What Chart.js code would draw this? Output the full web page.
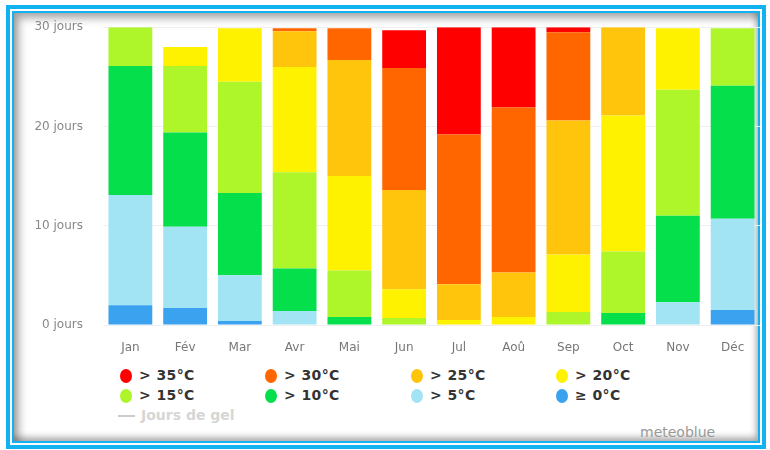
<!DOCTYPE html>
<html>
<head>
<meta charset="utf-8">
<script src="https://cdn.jsdelivr.net/npm/chart.js@4.4.0/dist/chart.umd.min.js"></script>
<style>
  html, body { margin: 0; padding: 0; background: #fff; }
  body { width: 770px; height: 450px; position: relative; overflow: hidden; font-family: "DejaVu Sans", sans-serif; }
  #frame { position: absolute; left: 6px; top: 5px; width: 752px; height: 436px; border: 4px solid #12b2f0; }
  #frame2 { position: absolute; left: 2px; top: 2px; right: 2px; bottom: 2px; border: 2px solid #12b2f0;
            box-shadow: inset 5px 5px 8px rgba(0,0,0,0.35), inset -2px -4px 6px rgba(0,0,0,0.3); background: #fff; }
  #wrap { position: absolute; left: 0; top: 0; width: 770px; height: 360px; }
  #legend { position: absolute; left: 0; top: 0; }
  .item { position: absolute; font-size: 14px; font-weight: bold; color: #333; white-space: nowrap; letter-spacing: 0.4px; }
  .dot { position: absolute; width: 12px; height: 14px; border-radius: 50%; }
  #gel { position: absolute; left: 118px; top: 407px; font-size: 14px; font-weight: bold; color: #d6d6d6; white-space: nowrap; }
  #gel span { display: inline-block; width: 17px; height: 2px; background: #ccc; vertical-align: middle; margin-right: 6px; }
  #brand { position: absolute; left: 640px; top: 424px; font-size: 14px; color: #999; }
</style>
</head>
<body>
<div id="frame"><div id="frame2"></div></div>
<div id="wrap"><canvas id="chart"></canvas></div>
<div id="legend"></div>
<div id="gel"><span></span>Jours de gel</div>
<div id="brand">meteoblue</div>
<script>
const categories = ['Jan', 'Fév', 'Mar', 'Avr', 'Mai', 'Jun', 'Jul', 'Aoû', 'Sep', 'Oct', 'Nov', 'Déc'];

// days per month, bottom of the stack first
const days0  = [2.0, 1.7, 0.4, 0, 0, 0, 0, 0, 0, 0, 0, 1.5];
const days5  = [11.1, 8.2, 4.6, 1.4, 0, 0, 0, 0, 0, 0, 2.3, 9.2];
const days10 = [13.0, 9.5, 8.3, 4.3, 0.8, 0, 0, 0, 0, 1.2, 8.7, 13.4];
const days15 = [3.9, 6.7, 11.2, 9.7, 4.7, 0.7, 0, 0, 1.3, 6.2, 12.7, 5.8];
const days20 = [0, 1.9, 5.4, 10.6, 9.5, 2.9, 0.5, 0.8, 5.8, 13.7, 6.2, 0];
const days25 = [0, 0, 0, 3.6, 11.7, 10.0, 3.6, 4.5, 13.5, 8.9, 0, 0];
const days30 = [0, 0, 0, 0.3, 3.2, 12.3, 15.1, 16.6, 8.9, 0, 0, 0];
const days35 = [0, 0, 0, 0, 0, 3.8, 10.8, 8.1, 0.5, 0, 0, 0];

const yTicks = [0, 10, 20, 30];

const series = [
  { label: '≥ 0°C',  data: days0,  color: '#3aa2ee' },
  { label: '> 5°C',  data: days5,  color: '#a2e4f4' },
  { label: '> 10°C', data: days10, color: '#06df4c' },
  { label: '> 15°C', data: days15, color: '#aef52a' },
  { label: '> 20°C', data: days20, color: '#fff200' },
  { label: '> 25°C', data: days25, color: '#ffc40c' },
  { label: '> 30°C', data: days30, color: '#ff6600' },
  { label: '> 35°C', data: days35, color: '#ff0000' }
];

new Chart(document.getElementById('chart'), {
  type: 'bar',
  data: {
    labels: categories,
    datasets: series.map(s => ({
      label: s.label,
      data: s.data,
      backgroundColor: s.color,
      borderWidth: 0,
      categoryPercentage: 0.8,
      barPercentage: 1
    }))
  },
  options: {
    responsive: true,
    maintainAspectRatio: false,
    animation: false,
    layout: { padding: { left: 0, right: 10, top: 23, bottom: 0 } },
    plugins: { legend: { display: false }, tooltip: { enabled: false } },
    scales: {
      x: {
        stacked: true,
        grid: { display: false },
        border: { display: false },
        ticks: { color: '#777', padding: 8, font: { family: 'DejaVu Sans', size: 12 } },
        afterFit: s => { s.height = 35; }
      },
      y: {
        stacked: true,
        min: 0,
        max: 30,
        afterBuildTicks: s => { s.ticks = yTicks.map(v => ({ value: v })); },
        grid: { color: '#f0f0f0', drawTicks: false },
        border: { display: false },
        ticks: {
          color: '#888', padding: 20, font: { family: 'DejaVu Sans', size: 12 },
          callback: v => v + ' jours'
        },
        afterFit: s => { s.width = 103; }
      }
    }
  }
});

// legend, four columns, hottest first
const legend = document.getElementById('legend');
const cols = [126, 271, 417, 562];
series.slice().reverse().forEach((s, i) => {
  const x = cols[i % 4], y = 376 + Math.floor(i / 4) * 20;
  const dot = document.createElement('div');
  dot.className = 'dot';
  dot.style.left = (x - 6) + 'px';
  dot.style.top = (y - 7) + 'px';
  dot.style.background = s.color;
  legend.appendChild(dot);
  const t = document.createElement('div');
  t.className = 'item';
  t.style.left = (x + 13) + 'px';
  t.style.top = (y - 9) + 'px';
  t.textContent = s.label;
  legend.appendChild(t);
});
</script>
</body>
</html>
